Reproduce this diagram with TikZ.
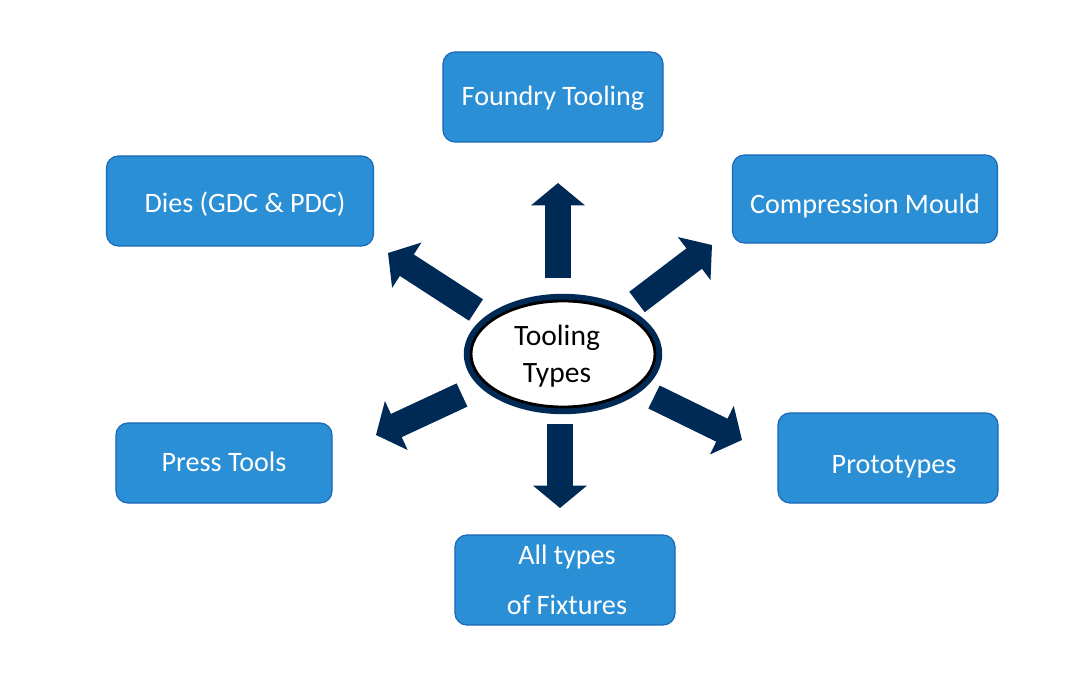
\documentclass[tikz,border=0pt]{standalone}
\usepackage{fontspec}
\setmainfont{Carlito}
\usepackage{tikz}
\usetikzlibrary{arrows.meta,shapes.geometric}

\definecolor{boxblue}{RGB}{42,143,213}
\definecolor{boxline}{RGB}{28,104,186}
\definecolor{navy}{RGB}{0,42,86}

\tikzset{
  tbox/.style={draw=boxline, fill=boxblue, line width=0.03cm, rounded corners=0.3cm,
    text=white, font=\fontsize{20}{25}\selectfont, align=center, inner sep=0pt},
  onebox/.style={tbox, text height=0.5cm, text depth=0.1cm},
  fatarrow/.style={navy, line width=0.64cm,
    -{Triangle[length=0.56cm, width=1.32cm]}}
}

\begin{document}
\begin{tikzpicture}[x=0.025cm, y=-0.025cm]
\useasboundingbox (0,0) rectangle (1089,695);
\fill[white] (0,0) rectangle (1089,695);
\node [onebox, minimum width=5.5cm, minimum height=2.25cm] (A) at (553,97) {Foundry Tooling};
\node [onebox, minimum width=6.675cm, minimum height=2.25cm] (B) at (240,201) {\raisebox{-0.08cm}{\hspace{0.25cm}Dies (GDC \& PDC)}};
\node [onebox, minimum width=6.625cm, minimum height=2.2cm] (C) at (865,199) {\raisebox{-0.15cm}{Compression Mould}};
\node [onebox, minimum width=5.4cm, minimum height=2cm] (D) at (224,463) {Press Tools};
\node [onebox, minimum width=5.5cm, minimum height=2.25cm] (E) at (888,458) {\raisebox{-0.18cm}{\hspace{0.3cm}Prototypes}};
\node [tbox, minimum width=5.5cm, minimum height=2.25cm, font=\fontsize{20}{36}\selectfont] (F) at (565,580) {\hspace{0.1cm}All types\\\hspace{0.1cm}of Fixtures};
%ellipse au centre
\node [ellipse, draw=navy, fill=white, line width=0.16cm, minimum width=4.8cm, minimum height=2.85cm] (T) at (563,354) {};
\draw [black, line width=0.07cm] (T.center) ellipse [x radius=92, y radius=53];
\node [align=center, font=\fontsize{21}{26}\selectfont] (TT) at (557,356) {Tooling\\Types};
%fleches
\coordinate (t1) at (558,278); \coordinate (h1) at (558,183);
\coordinate (t2) at (560,424); \coordinate (h2) at (560,508);
\coordinate (t3) at (476,310); \coordinate (h3) at (388,253);
\coordinate (t4) at (637,302); \coordinate (h4) at (712,245);
\coordinate (t5) at (462,395); \coordinate (h5) at (376,435);
\coordinate (t6) at (654,397); \coordinate (h6) at (742,440);
\foreach \i in {1,...,6}
{
\draw [fatarrow] (t\i) -- (h\i);
}
\end{tikzpicture}
\end{document}
